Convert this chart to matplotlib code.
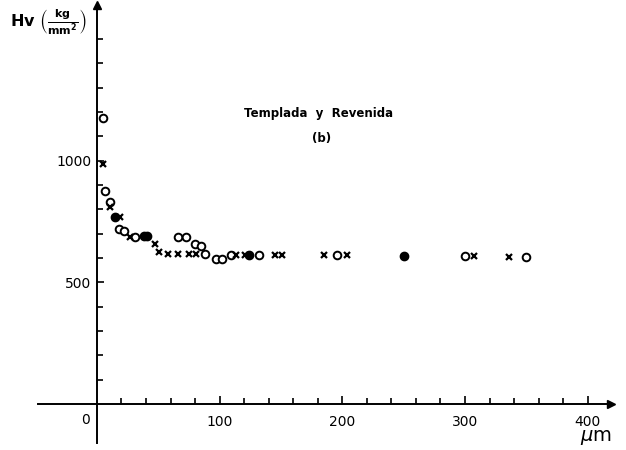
import matplotlib.pyplot as plt
from matplotlib.ticker import FixedLocator

# hardness readings (depth in um, Hv in kg/mm2)
circle_x = [5, 7, 11, 18, 22, 31, 66, 73, 80, 85, 88, 97, 102, 109, 132, 196, 300, 350]
circle_y = [1175, 877, 831, 718, 711, 688, 685, 685, 657, 651, 615, 598, 598, 612, 612, 612, 608, 605]

cross_x = [5, 11, 19, 27, 47, 51, 58, 66, 75, 81, 113, 121, 145, 151, 185, 204, 307, 336]
cross_y = [985, 808, 767, 688, 657, 626, 616, 616, 616, 616, 612, 612, 612, 612, 612, 612, 608, 605]

filled_x = [15, 38, 41, 124, 250]
filled_y = [770, 690, 690, 612, 608]

x_ticks = [100, 200, 300, 400]
x_minor = list(range(20, 401, 20))
y_ticks = [500, 1000]
y_minor = list(range(100, 1501, 100))

fig = plt.figure(figsize=(6.26, 4.5), dpi=100)
ax = fig.add_axes([38 / 626, 7 / 450, 573 / 626, 438 / 450])
ax.set_xlim(-48, 419)
ax.set_ylim(-160, 1640)

# axes drawn as crossing lines through the origin
for side in ['top', 'right']:
    ax.spines[side].set_visible(False)
ax.spines['left'].set_position(('data', 0))
ax.spines['bottom'].set_position(('data', 0))
ax.spines['left'].set_linewidth(1.4)
ax.spines['bottom'].set_linewidth(1.4)
ax.plot([0], [1], '^k', ms=6, transform=ax.get_xaxis_transform(), clip_on=False)
ax.plot([1], [0], '>k', ms=6, transform=ax.get_yaxis_transform(), clip_on=False)

ax.set_xticks(x_ticks)
ax.set_xticklabels([str(v) for v in x_ticks])
ax.xaxis.set_minor_locator(FixedLocator(x_minor))
ax.set_yticks(y_ticks)
ax.set_yticklabels([str(v) for v in y_ticks])
ax.yaxis.set_minor_locator(FixedLocator(y_minor))
ax.tick_params(axis='x', which='major', direction='in', length=6, width=1.2, pad=8, labelsize=10)
ax.tick_params(axis='x', which='minor', direction='in', length=4, width=1.2)
ax.tick_params(axis='y', which='major', direction='in', length=5, width=1.2, pad=4, labelsize=10)
ax.tick_params(axis='y', which='minor', direction='in', length=4, width=1.2)

ax.plot(circle_x, circle_y, 'o', mfc='white', mec='black', mew=1.4, ms=5.5, ls='none', clip_on=False)
ax.plot(cross_x, cross_y, 'x', color='black', mew=1.6, ms=5, ls='none', clip_on=False)
ax.plot(filled_x, filled_y, 'o', color='black', ms=6, ls='none', clip_on=False)

ax.text(-9.5, -66, '0', ha='center', va='center', fontsize=10)
ax.text(407, -136, r'$\mu$m', ha='center', va='center', fontsize=14)
ax.text(181, 1196, 'Templada  y  Revenida', ha='center', va='center', fontsize=8.5, fontweight='bold')
ax.text(183, 1093, '(b)', ha='center', va='center', fontsize=8.5, fontweight='bold')

fig.text(10 / 626, 1 - 22 / 450, r'Hv $\left(\frac{\mathbf{kg}}{\mathbf{mm^2}}\right)$',
         ha='left', va='center', fontsize=11.5, fontweight='bold')

fig.savefig('out.png', dpi=100)
